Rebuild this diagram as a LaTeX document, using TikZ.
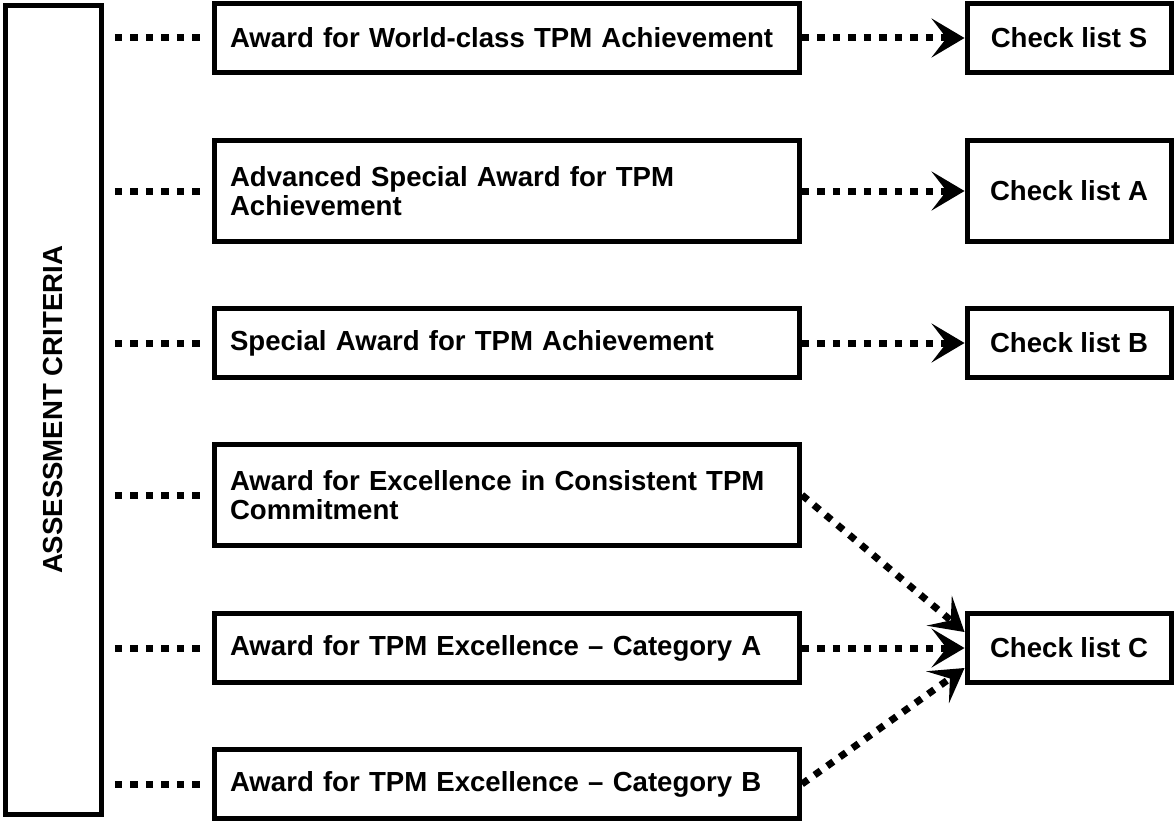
\documentclass[tikz,border=0pt]{standalone}
\usepackage{fontspec}
\setmainfont{Liberation Sans}
\usetikzlibrary{positioning, arrows.meta}

\begin{document}
\begin{tikzpicture}[x=0.02cm, y=-0.02cm]

	\tikzstyle{critere}=[rectangle, draw, line width=0.1cm, minimum width=1.93cm, minimum height=16.2cm, inner sep=0pt]
	\tikzstyle{prix}=[rectangle, draw, line width=0.1cm, text width=11.08cm, align=left, inner xsep=0.31cm, inner ysep=0pt, minimum height=1.38cm]
	\tikzstyle{prix2}=[prix, minimum height=2.02cm]
	\tikzstyle{liste}=[rectangle, draw, line width=0.1cm, minimum width=4.08cm, minimum height=1.38cm, inner sep=0pt]
	\tikzstyle{lien}=[line width=0.14cm, dash pattern=on 0.15cm off 0.16cm]
	\tikzstyle{arc}=[lien, -{Stealth[length=0.66cm, width=0.78cm, inset=0.3cm]}]
	\tikzset{every node/.style={font=\bfseries\fontsize{15.7}{16.8}\selectfont}}

	\useasboundingbox (0,0) rectangle (1175,821);

	% placement des noeuds
	\node[critere] (crit) at (53.25,410) {\rotatebox{90}{ASSESSMENT CRITERIA}};
	\node[prix] 	(p1) at (507,38) 	{Award for World-class TPM Achievement};
	\node[prix2] 	(p2) at (507,191) 	{Advanced Special Award for TPM\\Achievement};
	\node[prix] 	(p3) at (507,343) 	{Special Award for TPM Achievement};
	\node[prix2] 	(p4) at (507,495) 	{Award for Excellence in Consistent TPM\\Commitment};
	\node[prix] 	(p5) at (507,648) 	{Award for TPM Excellence -- Category A};
	\node[prix] 	(p6) at (507,784) 	{Award for TPM Excellence -- Category B};
	\node[liste] 	(cS) at (1069,38) 	{Check list S};
	\node[liste, minimum height=2.02cm] 	(cA) at (1069,191) 	{Check list A};
	\node[liste] 	(cB) at (1069,343) 	{Check list B};
	\node[liste] 	(cC) at (1069,648) 	{Check list C};

	% liens depuis les criteres
	\foreach \p in {p1,p2,p3,p4,p5,p6}
		\draw[lien, shorten <=0.22cm, shorten >=0.2cm] (crit.east |- \p.west) -- (\p.west);

	% fleches vers les check lists
	\draw[arc] (p1.east) -- (cS.west);
	\draw[arc] (p2.east) -- (cA.west);
	\draw[arc] (p3.east) -- (cB.west);
	\draw[arc] (p4.east) -- ([yshift=0.32cm]cC.west);
	\draw[arc] (p5.east) -- (cC.west);
	\draw[arc] (p6.east) -- ([yshift=-0.4cm]cC.west);

\end{tikzpicture}
\end{document}
